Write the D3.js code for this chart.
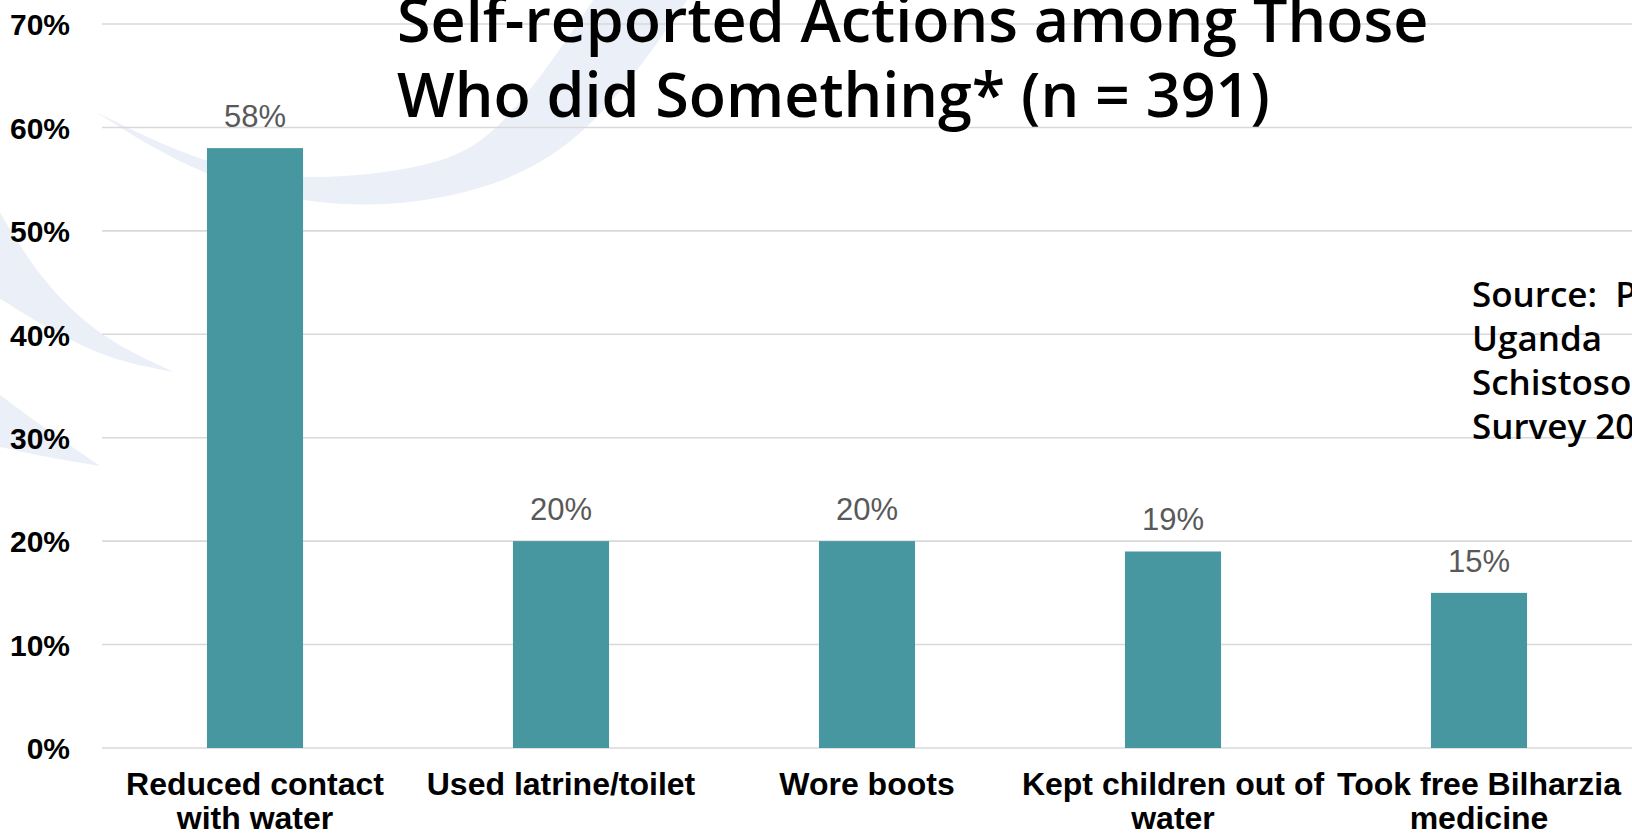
<!DOCTYPE html>
<html>
<head>
<meta charset="utf-8">
<script src="https://cdn.jsdelivr.net/npm/d3@7"></script>
<style>
  html, body { margin: 0; padding: 0; background: #fff; overflow: hidden; }
  svg { display: block; }
</style>
</head>
<body>
<div id="chart"></div>
<script>
// chart data
const categories = [
  ["Reduced contact", "with water"],
  ["Used latrine/toilet"],
  ["Wore boots"],
  ["Kept children out of", "water"],
  ["Took free Bilharzia", "medicine"]
];
const values = [58, 20, 20, 19, 15];
const yTicks = [0, 10, 20, 30, 40, 50, 60, 70];
const titleLines = ["Self-reported Actions among Those", "Who did Something* (n = 391)"];
const sourceLines = ["Source:  PMA", "Uganda", "Schistosomiasis", "Survey 2018"];

const W = 1632, H = 836;
var margin = {top: 24, right: 0, bottom: 88, left: 102};
var width = W - margin.left - margin.right,
    height = H - margin.top - margin.bottom;

var svg = d3.select("#chart").append("svg")
    .attr("width", W)
    .attr("height", H);

// faint background swooshes from the slide template
var swoosh = d3.line().curve(d3.curveBasis);
var bg = svg.append("g").attr("class", "bg").attr("fill", "#ebeff7");
function crescent(outer, inner) {
  return swoosh(outer) + "L" + swoosh(inner.slice().reverse()).slice(1) + "Z";
}
bg.append("path").attr("d", crescent(
  [[96,112],[200,178],[338,212],[480,196],[590,140],[690,-4]],
  [[96,112],[205,166],[310,182],[430,168],[500,138],[596,-4]]));
bg.append("path").attr("d", crescent(
  [[-4,206],[40,280],[100,338],[174,372]],
  [[-4,296],[50,330],[110,360],[174,372]]));
bg.append("path").attr("d", crescent(
  [[-4,392],[40,425],[100,466]],
  [[-4,446],[50,458],[100,466]]));

var g = svg.append("g")
    .attr("transform", "translate(" + margin.left + "," + margin.top + ")");

var x = d3.scaleBand()
    .domain(d3.range(values.length))
    .range([0, width])
    .paddingInner(0.686)
    .paddingOuter(0.343);

var y = d3.scaleLinear()
    .domain([0, 70])
    .range([height, 0]);

// gridlines
g.append("g").attr("class", "grid")
  .selectAll("line")
  .data(yTicks)
  .enter().append("line")
    .attr("x1", 0)
    .attr("x2", width)
    .attr("y1", d => y(d))
    .attr("y2", d => y(d))
    .attr("stroke", "#d9d9d9")
    .attr("stroke-width", 1.6);

// y axis labels
var yAxis = g.append("g")
    .attr("transform", "translate(-32,0)")
    .call(d3.axisLeft(y).tickValues(yTicks).tickSize(0).tickFormat(d => d + "%"));
yAxis.select(".domain").remove();
yAxis.selectAll("text")
    .attr("x", 0)
    .attr("dy", "0.36em")
    .style("font-family", "'Liberation Sans', Arial, sans-serif")
    .style("font-weight", "bold")
    .style("font-size", "30px")
    .style("fill", "#000");

// bars
g.append("g").attr("class", "bars")
  .selectAll("rect")
  .data(values)
  .enter().append("rect")
    .attr("x", (d, i) => x(i))
    .attr("y", d => y(d))
    .attr("width", x.bandwidth())
    .attr("height", d => height - y(d))
    .attr("fill", "#4697a0");

// value labels
g.append("g").attr("class", "values")
  .selectAll("text")
  .data(values)
  .enter().append("text")
    .attr("x", (d, i) => x(i) + x.bandwidth() / 2)
    .attr("y", d => y(d) - 21)
    .attr("text-anchor", "middle")
    .style("font-family", "'Liberation Sans', Arial, sans-serif")
    .style("font-size", "31px")
    .style("fill", "#595959")
    .text(d => d + "%");

// category labels
var cats = g.append("g").attr("class", "cats")
  .selectAll("text")
  .data(categories)
  .enter().append("text")
    .attr("text-anchor", "middle")
    .attr("transform", (d, i) => "translate(" + (x(i) + x.bandwidth() / 2) + "," + (height + 47) + ")")
    .style("font-family", "'Liberation Sans', Arial, sans-serif")
    .style("font-weight", "bold")
    .style("font-size", "32px")
    .style("fill", "#000");
cats.selectAll("tspan")
  .data(d => d)
  .enter().append("tspan")
    .attr("x", 0)
    .attr("y", (d, i) => i * 34)
    .text(d => d);

// title (top of first line runs off the slide, as in the source)
svg.append("text")
    .attr("x", 397)
    .attr("y", 42)
    .style("font-family", "'Open Sans', 'Noto Sans', sans-serif")
    .style("font-weight", "600")
    .style("font-size", "61px")
    .style("fill", "#000")
  .selectAll("tspan")
  .data(titleLines)
  .enter().append("tspan")
    .attr("x", 397)
    .attr("dy", (d, i) => i === 0 ? 0 : 75)
    .text(d => d);

// source note (runs off the right edge)
svg.append("text")
    .attr("x", 1472)
    .attr("y", 307)
    .style("font-family", "'Open Sans', 'Noto Sans', sans-serif")
    .style("font-weight", "600")
    .style("font-size", "35px")
    .style("fill", "#000")
  .selectAll("tspan")
  .data(sourceLines)
  .enter().append("tspan")
    .attr("x", 1472)
    .attr("dy", (d, i) => i === 0 ? 0 : 44)
    .style("white-space", "pre")
    .text(d => d);
</script>
</body>
</html>
